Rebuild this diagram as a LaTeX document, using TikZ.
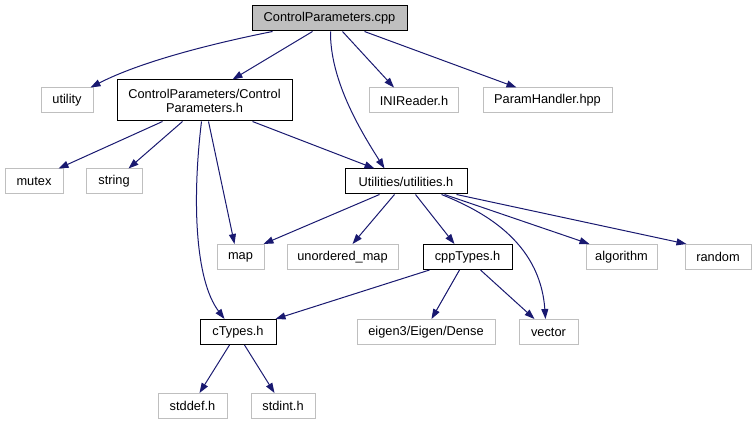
\documentclass[tikz,border=0pt]{standalone}
\usepackage{fontspec}
\setmainfont{Liberation Sans}
\usetikzlibrary{arrows.meta}
\definecolor{edgeblue}{HTML}{191970}
\definecolor{boxgray}{HTML}{BFBFBF}
\begin{document}
\begin{tikzpicture}[x=1pt,y=-1pt,
  box/.style={draw=black, line width=1pt, inner sep=0pt, font=\fontsize{12.8}{14}\selectfont, align=center, minimum height=25pt},
  ext/.style={box, draw=boxgray},
  mainbox/.style={box, fill=boxgray},
  dep/.style={draw=edgeblue, line width=1pt, -{Triangle[length=10pt,width=7pt]}}]
\useasboundingbox (0,0) rectangle (756,425);
% nodes
\node[mainbox, minimum width=155pt] (cpp) at (329.5,18.5) {ControlParameters.cpp};
\node[ext, minimum width=52pt] (utility) at (67,100.5) {utility};
\node[box, minimum width=175pt, minimum height=41pt] (cph) at (204.5,100.5) {ControlParameters/Control\\Parameters.h};
\node[ext, minimum width=89pt] (ini) at (414,100.5) {INIReader.h};
\node[ext, minimum width=129pt] (param) at (547.5,100.5) {ParamHandler.hpp};
\node[ext, minimum width=58pt] (mutex) at (34,181.5) {mutex};
\node[ext, minimum width=56pt] (string) at (114,181.5) {string};
\node[box, minimum width=122pt] (utils) at (406,181.5) {Utilities/utilities.h};
\node[ext, minimum width=47pt] (map) at (240.5,257) {map};
\node[ext, minimum width=111pt] (umap) at (342.5,257) {unordered\_map};
\node[box, minimum width=89pt] (cppt) at (467.5,257) {cppTypes.h};
\node[ext, minimum width=71pt] (algo) at (621.5,257) {algorithm};
\node[ext, minimum width=66pt] (random) at (718,257) {random};
\node[box, minimum width=76pt] (ctypes) at (238,332) {cTypes.h};
\node[ext, minimum width=138pt] (eigen) at (426,332) {eigen3/Eigen/Dense};
\node[ext, minimum width=59pt] (vector) at (548.5,332) {vector};
\node[ext, minimum width=69pt] (stddef) at (192.5,406) {stddef.h};
\node[ext, minimum width=64pt] (stdint) at (283,406) {stdint.h};
% edges
\draw[dep] ([xshift=21pt]cpp.south west) .. controls (210,44) and (140,62) .. ([xshift=-3pt]utility.north east);
\draw[dep] ([xshift=61pt]cpp.south west) -- ([xshift=116pt]cph.north west);
\draw[dep] ([xshift=79pt]cpp.south west) .. controls (330,80) and (360,130) .. ([xshift=40pt]utils.north west);
\draw[dep] ([xshift=91pt]cpp.south west) -- ([xshift=25pt]ini.north west);
\draw[dep] ([xshift=113pt]cpp.south west) -- ([xshift=34pt]param.north west);
\draw[dep] ([xshift=46pt]cph.south west) -- ([xshift=-5pt]mutex.north east);
\draw[dep] ([xshift=66pt]cph.south west) -- ([xshift=-14pt]string.north east);
\draw[dep] ([xshift=85pt]cph.south west) .. controls (192,200) and (195,280) .. ([xshift=25pt]ctypes.north west);
\draw[dep] ([xshift=92pt]cph.south west) -- ([xshift=18pt]map.north west);
\draw[dep] ([xshift=-40pt]cph.south east) -- ([xshift=30pt]utils.north west);
\draw[dep] ([xshift=35pt]utils.south west) -- ([xshift=-1pt]map.north east);
\draw[dep] ([xshift=50pt]utils.south west) -- ([xshift=66pt]umap.north west);
\draw[dep] ([xshift=71pt]utils.south west) -- ([xshift=32pt]cppt.north west);
\draw[dep] ([xshift=97pt]utils.south west) .. controls (480,210) and (540,240) .. ([xshift=27pt]vector.north west);
\draw[dep] ([xshift=100pt]utils.south west) -- ([xshift=4pt]algo.north west);
\draw[dep] ([xshift=112pt]utils.south west) -- ([xshift=2pt]random.north west);
\draw[dep] ([xshift=7pt]cppt.south west) -- ([xshift=-1pt]ctypes.north east);
\draw[dep] ([xshift=37pt]cppt.south west) -- ([xshift=75pt]eigen.north west);
\draw[dep] ([xshift=58pt]cppt.south west) -- ([xshift=16pt]vector.north west);
\draw[dep] ([xshift=30pt]ctypes.south west) -- ([xshift=42pt]stddef.north west);
\draw[dep] ([xshift=45pt]ctypes.south west) -- ([xshift=24pt]stdint.north west);
\end{tikzpicture}
\end{document}
